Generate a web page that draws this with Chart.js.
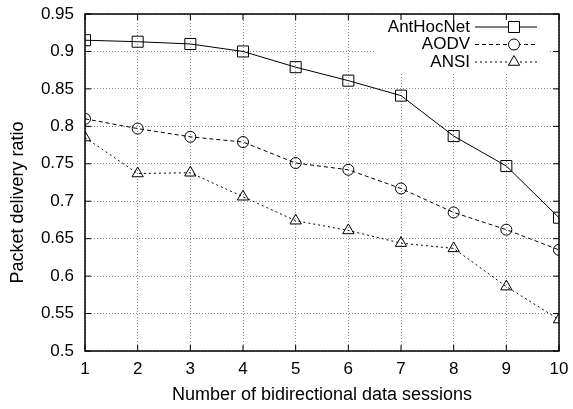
<!DOCTYPE html>
<html>
  <head>
    <title>Packet delivery ratio</title>
    <script src="https://cdn.jsdelivr.net/npm/chart.js"></script>
    <style>
      body { margin: 0; background: #fff; }
      #wrap { width: 573px; height: 409px; }
    </style>
  </head>
  <body>
    <div id="wrap"><canvas id="pdr"></canvas></div>
    <script>
      let sessions = [1, 2, 3, 4, 5, 6, 7, 8, 9, 10];
      let antHocNet = [0.915, 0.913, 0.910, 0.900, 0.879, 0.861, 0.841, 0.787, 0.747, 0.678];
      let aodv = [0.810, 0.797, 0.786, 0.779, 0.751, 0.742, 0.717, 0.685, 0.662, 0.635];
      let ansi = [0.785, 0.737, 0.738, 0.706, 0.674, 0.661, 0.644, 0.637, 0.586, 0.542];
      let yTicks = ["0.5", "0.55", "0.6", "0.65", "0.7", "0.75", "0.8", "0.85", "0.9", "0.95"];
      let xTicks = ["1", "2", "3", "4", "5", "6", "7", "8", "9", "10"];
      let yTitle = "Packet delivery ratio";
      let xTitle = "Number of bidirectional data sessions";

      let font = "'Liberation Sans', Arial, sans-serif";

      let series = [
        { label: "AntHocNet", data: antHocNet, dash: [], style: "rect", r: 7.8 },
        { label: "AODV", data: aodv, dash: [4, 3], style: "circle", r: 5.5 },
        { label: "ANSI", data: ansi, dash: [2, 3], style: "triangle", r: 6.5 },
      ];

      // gnuplot style frame, inward ticks, key box and y label
      let framePlugin = {
        id: "frame",
        afterDraw(chart) {
          let c = chart.ctx;
          let a = chart.chartArea;
          let xs = chart.scales.x;
          let ys = chart.scales.y;
          c.save();

          // y label sits a bit below the middle, like the original
          c.save();
          c.translate(18, (a.top + a.bottom) / 2 + 20);
          c.rotate(-Math.PI / 2);
          c.font = "18px " + font;
          c.fillStyle = "#000";
          c.textAlign = "center";
          c.textBaseline = "middle";
          c.fillText(yTitle, 0, 0);
          c.restore();

          // key
          let kx = a.right - 9, ky = a.top + 6;
          c.fillStyle = "#fff";
          c.fillRect(kx - 175, ky, 175, 53);
          c.font = "17px " + font;
          c.textAlign = "right";
          c.textBaseline = "middle";
          series.forEach((s, i) => {
            let y = ky + 7 + i * 17.5;
            c.fillStyle = "#000";
            c.fillText(s.label, kx - 80, y);
            c.strokeStyle = "#000";
            c.lineWidth = 1;
            c.setLineDash(s.dash);
            c.beginPath();
            c.moveTo(kx - 75, y);
            c.lineTo(kx - 13, y);
            c.stroke();
            c.setLineDash([]);
            c.fillStyle = "#fff";
            Chart.helpers.drawPoint(c, { pointStyle: s.style, radius: s.r, borderWidth: 1 }, kx - 36, y);
          });

          // frame
          c.setLineDash([]);
          c.strokeStyle = "#000";
          c.lineWidth = 1.5;
          c.strokeRect(a.left, a.top, a.right - a.left, a.bottom - a.top);
          c.lineWidth = 1;
          c.beginPath();
          xTicks.forEach((t) => {
            let px = xs.getPixelForValue(Number(t));
            c.moveTo(px, a.bottom);
            c.lineTo(px, a.bottom - 6);
            c.moveTo(px, a.top);
            c.lineTo(px, a.top + 6);
          });
          yTicks.forEach((t) => {
            let py = ys.getPixelForValue(Number(t));
            c.moveTo(a.left, py);
            c.lineTo(a.left + 6, py);
            c.moveTo(a.right, py);
            c.lineTo(a.right - 6, py);
          });
          c.stroke();
          c.restore();
        },
      };

      let noPad = (s) => {
        s.paddingTop = 0;
        s.paddingBottom = 0;
        s.paddingLeft = 0;
        s.paddingRight = 0;
      };

      new Chart(document.getElementById("pdr"), {
        type: "line",
        data: {
          datasets: series.map((s) => ({
            label: s.label,
            data: s.data.map((v, i) => ({ x: sessions[i], y: v })),
            borderColor: "#000",
            borderWidth: 1,
            borderDash: s.dash,
            pointStyle: s.style,
            pointRadius: s.r,
            pointBorderColor: "#000",
            pointBackgroundColor: "rgba(0,0,0,0)",
            pointBorderWidth: 1,
            tension: 0,
          })),
        },
        options: {
          responsive: true,
          maintainAspectRatio: false,
          animation: false,
          layout: { padding: { top: 14, right: 14, left: 0, bottom: 0 } },
          plugins: { legend: { display: false }, tooltip: { enabled: false } },
          scales: {
            x: {
              type: "linear",
              min: 1,
              max: 10,
              afterBuildTicks: (s) => { s.ticks = xTicks.map((t) => ({ value: Number(t) })); },
              afterFit: (s) => { s.height = 58; noPad(s); },
              ticks: {
                color: "#000",
                font: { family: font, size: 17 },
                padding: 8,
                maxRotation: 0,
                callback: (v, i) => xTicks[i],
              },
              grid: { color: "#888", lineWidth: 1, drawTicks: false },
              border: { display: false, dash: [1, 2] },
              title: {
                display: true,
                text: xTitle,
                color: "#000",
                font: { family: font, size: 18 },
                padding: { top: 0, bottom: 3 },
              },
            },
            y: {
              min: 0.5,
              max: 0.95,
              afterBuildTicks: (s) => { s.ticks = yTicks.map((t) => ({ value: Number(t) })); },
              afterFit: (s) => { s.width = 85; noPad(s); },
              ticks: {
                color: "#000",
                font: { family: font, size: 17 },
                padding: 11,
                callback: (v, i) => yTicks[i],
              },
              grid: { color: "#888", lineWidth: 1, drawTicks: false },
              border: { display: false, dash: [1, 2] },
              title: { display: false },
            },
          },
        },
        plugins: [framePlugin],
      });
    </script>
  </body>
</html>
